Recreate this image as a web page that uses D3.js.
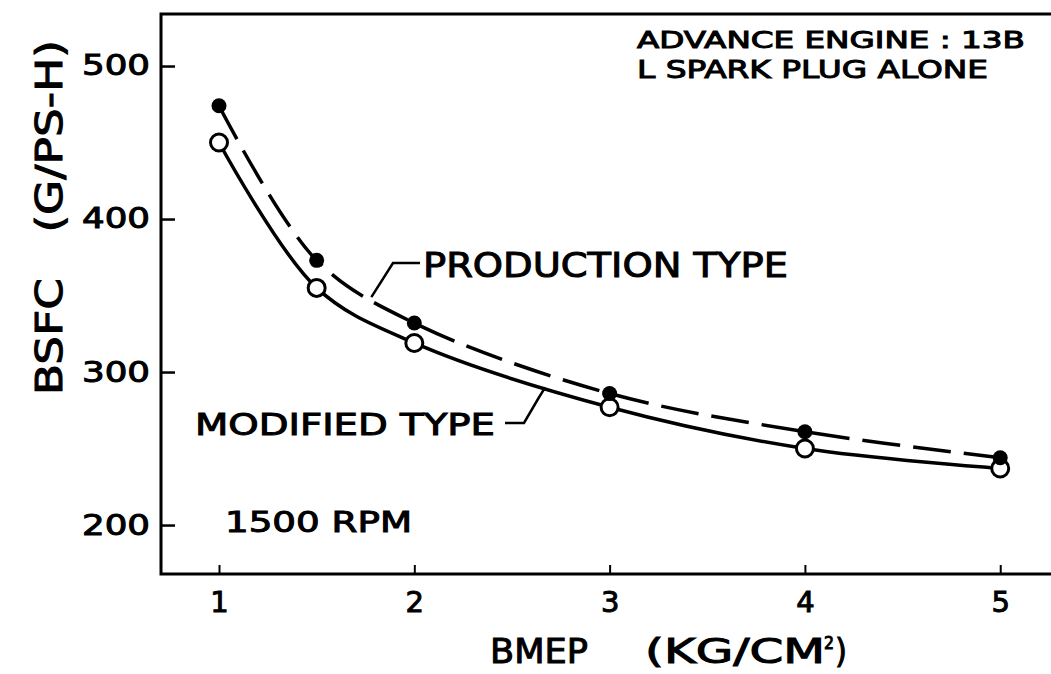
<!DOCTYPE html>
<html>
<head>
<meta charset="utf-8">
<script src="https://cdn.jsdelivr.net/npm/d3@7"></script>
<style>
  html, body { margin: 0; padding: 0; background: #fff; }
  svg { display: block; }
  text { font-family: "DejaVu Sans", sans-serif; font-weight: normal; fill: #000; stroke: #000; stroke-width: 1; }
</style>
</head>
<body>
<svg id="chart" width="1051" height="674"></svg>
<script>
// BMEP load points (kg/cm²)
const bmep = [1, 1.5, 2, 3, 4, 5];
// BSFC (g/PS-h), production rotor housing vs modified one
const productionBsfc = [474, 373, 332, 286, 261, 244];
const modifiedBsfc   = [450, 355, 319, 277, 250, 237];
const xTicks = [1, 2, 3, 4, 5];
const yTicks = [200, 300, 400, 500];

const plot = { left: 161, top: 14, right: 1051, bottom: 574 };

const svg = d3.select("#chart");

const x = d3.scaleLinear().domain([0.703, 5.26]).range([plot.left, plot.right]);
const y = d3.scaleLinear().domain([168, 534]).range([plot.bottom, plot.top]);

// Frame: top, left and bottom rules (open on the right)
svg.append("path")
  .attr("d", `M${plot.right},${plot.top} H${plot.left} V${plot.bottom} H${plot.right}`)
  .attr("fill", "none").attr("stroke", "#000").attr("stroke-width", 3);

// Y axis: short inward ticks, labels to the left
const yAxis = svg.append("g")
  .attr("transform", `translate(${plot.left},0)`)
  .call(d3.axisLeft(y).tickValues(yTicks).tickSizeInner(-14).tickSizeOuter(0).tickPadding(11));
yAxis.select(".domain").remove();
yAxis.selectAll(".tick line").attr("stroke", "#000").attr("stroke-width", 2.5);
yAxis.selectAll(".tick text")
  .attr("font-size", 28).attr("font-family", "DejaVu Sans")
  .attr("textLength", 68).attr("lengthAdjust", "spacingAndGlyphs");

// X axis: small upward ticks, labels below
const xAxis = svg.append("g")
  .attr("transform", `translate(0,${plot.bottom})`)
  .call(d3.axisBottom(x).tickValues(xTicks).tickFormat(d3.format("d"))
    .tickSizeInner(-9).tickSizeOuter(0).tickPadding(17));
xAxis.select(".domain").remove();
xAxis.selectAll(".tick line").attr("stroke", "#000").attr("stroke-width", 2);
xAxis.selectAll(".tick text")
  .attr("font-size", 29).attr("font-family", "DejaVu Sans");

// Curves
const toPts = vals => bmep.map((b, i) => [b, vals[i]]);
const line = d3.line().x(d => x(d[0])).y(d => y(d[1])).curve(d3.curveCatmullRom.alpha(0.5));

svg.append("path")
  .datum(toPts(productionBsfc))
  .attr("d", line)
  .attr("fill", "none").attr("stroke", "#000").attr("stroke-width", 3.5)
  .attr("stroke-dasharray", "38,13");

svg.append("path")
  .datum(toPts(modifiedBsfc))
  .attr("d", line)
  .attr("fill", "none").attr("stroke", "#000").attr("stroke-width", 3.5);

// Markers: open circles for modified, filled dots for production
svg.append("g").selectAll("circle")
  .data(toPts(modifiedBsfc)).join("circle")
  .attr("cx", d => x(d[0])).attr("cy", d => y(d[1])).attr("r", 8.5)
  .attr("fill", "#fff").attr("stroke", "#000").attr("stroke-width", 3);

svg.append("g").selectAll("circle")
  .data(toPts(productionBsfc)).join("circle")
  .attr("cx", d => x(d[0])).attr("cy", d => y(d[1])).attr("r", 7.5)
  .attr("fill", "#000");

// Series call-outs with leader lines
const leader = d3.line().curve(d3.curveLinear);
svg.append("path")
  .attr("d", leader([[x(1.78), y(349)], [393, 263], [420, 263]]))
  .attr("fill", "none").attr("stroke", "#000").attr("stroke-width", 2.5);
svg.append("path")
  .attr("d", leader([[505, 423], [524, 423], [538, 399], [x(2.67), y(290)]]))
  .attr("fill", "none").attr("stroke", "#000").attr("stroke-width", 2.5);

function label(txt, px, py, size, len) {
  return svg.append("text").attr("x", px).attr("y", py)
    .attr("font-size", size)
    .attr("textLength", len).attr("lengthAdjust", "spacingAndGlyphs")
    .text(txt);
}

label("PRODUCTION TYPE", 423, 277, 33, 365);
label("MODIFIED TYPE", 195, 435, 30, 300);
label("1500 RPM", 225, 532, 28, 187);
label("ADVANCE  ENGINE : 13B", 637, 48, 23, 388);
label("L SPARK PLUG ALONE", 637, 78, 24, 351);

// Axis titles
label("BMEP", 490, 663, 33, 98);
label("(KG/CM", 645, 663, 33, 180);
label("2", 824, 649, 17, 10);
label(")", 835, 663, 33, 12);

svg.append("text")
  .attr("transform", "translate(62,395) rotate(-90)")
  .attr("font-size", 38)
  .attr("textLength", 355).attr("lengthAdjust", "spacingAndGlyphs")
  .text("BSFC\u2003(G/PS-H)");
</script>
</body>
</html>
